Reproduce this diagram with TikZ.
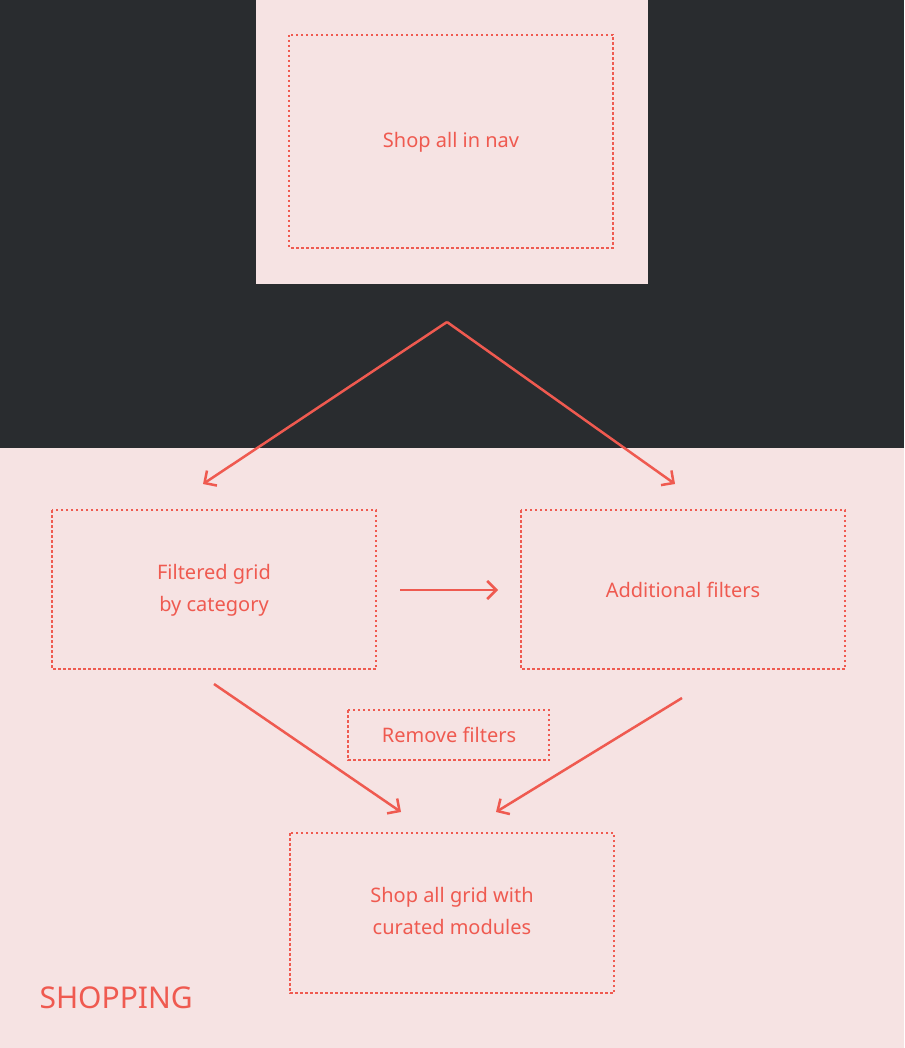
\documentclass[tikz,border=0pt]{standalone}
\usepackage{fontspec}
\setmainfont{Noto Sans}
\usetikzlibrary{arrows.meta}
\definecolor{dark}{HTML}{292C2F}
\definecolor{pinkbg}{HTML}{F6E3E3}
\definecolor{redc}{HTML}{EF5A50}
\tikzset{
 dbox/.style={draw=redc,line width=1.5pt,dash pattern=on 2.5pt off 2.5pt},
 lbl/.style={text=redc,font=\fontsize{20}{32}\selectfont,align=center},
 arr/.style={draw=redc,line width=2.5pt,-{Straight Barb[length=9pt,width=18pt,line width=2.5pt]}}
}
\begin{document}
\begin{tikzpicture}[x=1pt,y=-1pt]
\useasboundingbox (0,0) rectangle (904,1048);
\fill[pinkbg] (0,0) rectangle (904,1048);
\fill[dark] (0,0) rectangle (904,448);
\fill[pinkbg] (256,0) rectangle (648,284);
\draw[dbox] (289,35) rectangle (613,248);
\node[lbl] (nav) at (451,142) {Shop all in nav};
\draw[dbox] (52,510) rectangle (376,669);
\node[lbl] (filt) at (214,590) {Filtered grid\\ by category};
\draw[dbox] (521,510) rectangle (845,669);
\node[lbl] (add) at (683,590) {Additional filters};
\draw[dbox] (348,710) rectangle (549,760);
\node[lbl] (rem) at (449,735) {Remove filters};
\draw[dbox] (290,833) rectangle (614,993);
\node[lbl] (grid) at (452,911) {Shop all grid with\\ curated modules};
\node[text=redc,font=\fontsize{30}{36}\selectfont,anchor=west] (shop) at (36,998) {SHOPPING};
\coordinate (top) at (447,322);
\coordinate (l1) at (203,484);
\coordinate (r1) at (675,484);
\coordinate (m1) at (400,590);
\coordinate (m2) at (498,590);
\coordinate (b1) at (214,684);
\coordinate (b2) at (401,812);
\coordinate (c1) at (682,698);
\coordinate (c2) at (496,812);
\draw[arr] (top) -- (l1);
\draw[arr] (top) -- (r1);
\draw[arr] (m1) -- (m2);
\draw[arr] (b1) -- (b2);
\draw[arr] (c1) -- (c2);
\end{tikzpicture}
\end{document}
